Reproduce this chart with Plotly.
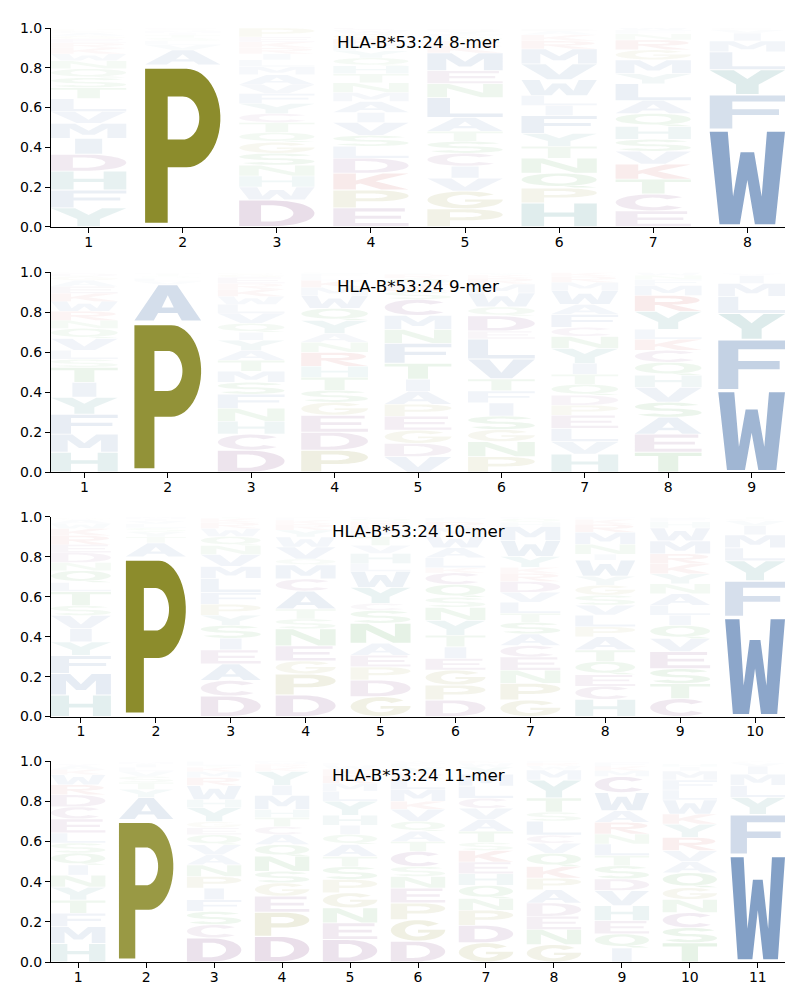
import numpy as np
import plotly.graph_objects as go

ALLELE = "HLA-B*53:24"
LENGTHS = [8, 9, 10, 11]

# letters per position, listed bottom -> top, with their stacked heights
MER8_LETTERS = ["YFHDIMVLTSQNWKREGACP", "PAVLSTIMQGE", "DWHNSGQTCYFVAMLIRKEP",
                "EPKDLSVIAMNTHQYFRGWC", "PGVICSTALNEMKRQFYD", "HPQNTYFILWVMRKAE",
                "ECTKVSHQALYMGRNFW", "WFYLMIVC"]
MER8_HEIGHTS = [
    [.095, .09, .095, .085, .08, .075, .06, .065, .055, .05, .045, .04, .035, .03, .025, .02, .015, .015, .01, .01],
    [.815, .075, .025, .02, .015, .015, .01, .01, .005, .005, .005],
    [.135, .065, .055, .055, .06, .055, .05, .05, .045, .05, .05, .045, .05, .04, .035, .03, .03, .03, .025, .045],
    [.095, .09, .085, .075, .06, .055, .065, .05, .055, .045, .05, .045, .04, .04, .035, .03, .03, .025, .02, .015],
    [.09, .09, .065, .06, .065, .06, .05, .07, .1, .07, .065, .09, .035, .025, .02, .015, .015, .01],
    [.12, .075, .075, .075, .06, .065, .09, .05, .05, .08, .08, .075, .04, .03, .02, .01],
    [.08, .085, .075, .075, .065, .06, .065, .065, .065, .085, .05, .07, .05, .05, .03, .02, .015],
    [.49, .175, .125, .09, .055, .04, .015, .01],
]

MER9_LETTERS = ["HMFYITSLVQNRWKEAGDC", "PAVLSTIM", "DCHNFSMTAYIQVLWKREGP",
                "PDEGSTHRNAYQWMKLFC", "VDGEPAITFNMCSKQRY", "PNGSIFTVLEDQWMRKY",
                "HVLEPDQTIYNCFAWMRKG", "TEASVHQCKLYRMFNW", "WFYLMIVC"]
MER9_HEIGHTS = [
    [.1, .09, .1, .085, .075, .075, .04, .045, .06, .05, .04, .045, .05, .04, .035, .03, .02, .015, .01],
    [.755, .185, .015, .015, .01, .01, .005, .005],
    [.11, .08, .065, .065, .07, .06, .055, .055, .05, .05, .04, .045, .05, .045, .04, .035, .03, .03, .015, .01],
    [.11, .09, .085, .065, .06, .065, .055, .07, .05, .045, .065, .06, .065, .04, .035, .02, .015, .01],
    [.078, .066, .066, .07, .06, .065, .06, .08, .1, .07, .07, .08, .04, .035, .03, .02, .01],
    [.078, .075, .06, .068, .066, .06, .06, .1, .1, .04, .075, .045, .07, .045, .03, .015, .01],
    [.09, .063, .066, .066, .05, .05, .055, .05, .055, .075, .06, .045, .065, .05, .07, .04, .03, .02, .01],
    [.1, .09, .085, .075, .075, .06, .065, .06, .055, .05, .09, .08, .05, .03, .02, .015],
    [.41, .255, .13, .085, .065, .04, .01, .005],
]

MER10_LETTERS = ["HMFYIVSTLQNDERKWAG", "PATYSLVIM", "DCAEISYPFLMVNQWRKT",
                 "DPGENSTACMQVWYRKLF", "GDPEANSCYWLHVTMKRQF", "DPGEITYNSQCKLAWMRFV",
                 "GPNECASTLVDRKYWMHQF", "HCEQTAPLVSGYWINMRKF", "CTSEVQILANYKRMWHFD",
                 "WFYLMIVCT"]
MER10_HEIGHTS = [
    [.108, .108, .09, .068, .066, .066, .05, .07, .045, .06, .04, .05, .04, .045, .035, .025, .02, .01],
    [.8, .07, .03, .025, .02, .02, .015, .01, .01],
    [.103, .078, .083, .07, .058, .065, .05, .055, .06, .07, .06, .06, .045, .045, .04, .03, .02, .01],
    [.108, .105, .066, .075, .085, .05, .05, .09, .06, .07, .03, .06, .05, .035, .03, .02, .01, .005],
    [.1, .083, .066, .058, .06, .1, .065, .035, .08, .08, .04, .05, .04, .045, .03, .025, .02, .015, .01],
    [.083, .075, .075, .058, .058, .058, .075, .065, .05, .065, .058, .025, .05, .05, .06, .04, .03, .02, .01],
    [.083, .083, .066, .066, .058, .058, .058, .045, .055, .05, .055, .04, .03, .055, .08, .07, .02, .02, .01],
    [.086, .066, .058, .066, .058, .066, .05, .058, .05, .05, .05, .045, .08, .03, .05, .06, .04, .025, .01],
    [.09, .075, .075, .085, .066, .066, .05, .05, .058, .05, .05, .05, .05, .065, .065, .03, .02, .005],
    [.5, .18, .1, .065, .065, .045, .025, .01, .01],
]

MER11_LETTERS = ["HMFTYNIQSLECDRWKAV", "PAYTSVLIMG", "DCSFIPNAVQEGYHWRMKTL",
                 "DPEGSNQACTHMIYKRWF", "DENGPSTAQIHYLMRKWF", "DGPENSCTAQVKMLRYFW",
                 "GDPNQHEKSTAVCLMYWR", "GNEDAPKQVCLSTYMWRF", "IQEHVDSTLNRAWCMKF",
                 "TSCNGQAVRYKWLFMIH", "WFYLMIVC"]
MER11_HEIGHTS = [
    [.092, .085, .066, .065, .065, .06, .05, .06, .05, .05, .07, .06, .06, .05, .05, .025, .02, .01],
    [.71, .11, .04, .035, .03, .025, .02, .015, .01, .005],
    [.12, .066, .066, .058, .058, .058, .058, .05, .05, .05, .035, .03, .07, .04, .07, .04, .03, .02, .01, .02],
    [.128, .12, .08, .066, .058, .075, .058, .05, .04, .045, .04, .07, .05, .07, .02, .015, .01, .01],
    [.112, .083, .075, .075, .066, .065, .05, .06, .05, .045, .05, .07, .05, .04, .04, .03, .02, .01],
    [.104, .107, .083, .074, .058, .05, .075, .05, .05, .05, .06, .04, .06, .05, .03, .03, .02, .01],
    [.096, .087, .075, .058, .066, .058, .058, .058, .04, .055, .06, .055, .05, .06, .06, .035, .02, .01],
    [.087, .075, .066, .066, .066, .058, .058, .066, .05, .04, .07, .045, .07, .09, .05, .02, .015, .01],
    [.07, .07, .066, .075, .075, .058, .066, .05, .058, .05, .058, .058, .09, .08, .03, .02, .02],
    [.096, .075, .075, .066, .058, .075, .055, .055, .066, .066, .05, .07, .05, .05, .045, .02, .015],
    [.535, .2, .085, .06, .055, .04, .015, .01],
]

PANELS = [(MER8_LETTERS, MER8_HEIGHTS), (MER9_LETTERS, MER9_HEIGHTS),
          (MER10_LETTERS, MER10_HEIGHTS), (MER11_LETTERS, MER11_HEIGHTS)]

BLUE, TEAL, PURPLE = (70, 113, 170), (48, 135, 135), (122, 58, 126)
RED, GREEN, OLIVE = (192, 56, 56), (58, 154, 58), (140, 140, 44)
COLORS = {}
for aa in "AVLIMFW":
    COLORS[aa] = BLUE
for aa in "YH":
    COLORS[aa] = TEAL
for aa in "DEC":
    COLORS[aa] = PURPLE
for aa in "KR":
    COLORS[aa] = RED
for aa in "NQST":
    COLORS[aa] = GREEN
for aa in "GP":
    COLORS[aa] = OLIVE


def arc(cx, cy, rx, ry, a0, a1, n=28):
    t = np.radians(np.linspace(a0, a1, n))
    return list(zip(cx + rx * np.cos(t), cy + ry * np.sin(t)))


# block-letter outlines in a unit box (even-odd fill gives the holes)
GLYPHS = {
    "A": [[(0, 0), (.36, 1), (.64, 1), (1, 0), (.71, 0), (.645, .21), (.355, .21), (.29, 0)],
          [(.41, .37), (.59, .37), (.5, .72)]],
    "C": [arc(.5, .5, .5, .5, 40, 320) + arc(.5, .5, .24, .3, 320, 40)],
    "D": [[(0, 0), (0, 1), (.45, 1)] + arc(.45, .5, .55, .5, 90, -90),
          [(.29, .18), (.29, .82), (.42, .82)] + arc(.42, .5, .3, .32, 90, -90)],
    "E": [[(0, 0), (0, 1), (.95, 1), (.95, .82), (.29, .82), (.29, .59), (.9, .59),
           (.9, .42), (.29, .42), (.29, .18), (1, .18), (1, 0)]],
    "F": [[(0, 0), (0, 1), (1, 1), (1, .82), (.3, .82), (.3, .58), (.92, .58),
           (.92, .41), (.3, .41), (.3, 0)]],
    "G": [arc(.5, .5, .5, .5, 40, 355) + [(1, .53), (.5, .53), (.5, .39)]
          + arc(.5, .5, .24, .3, -20, -320)],
    "H": [[(0, 0), (0, 1), (.3, 1), (.3, .6), (.7, .6), (.7, 1), (1, 1), (1, 0),
           (.7, 0), (.7, .42), (.3, .42), (.3, 0)]],
    "I": [[(.32, 0), (.32, 1), (.68, 1), (.68, 0)]],
    "K": [[(0, 0), (0, 1), (.3, 1), (.3, .56), (.66, 1), (1, 1), (.56, .52), (1, 0),
           (.64, 0), (.36, .38), (.3, .31), (.3, 0)]],
    "L": [[(0, 0), (0, 1), (.3, 1), (.3, .18), (1, .18), (1, 0)]],
    "M": [[(0, 0), (0, 1), (.32, 1), (.5, .5), (.68, 1), (1, 1), (1, 0), (.75, 0),
           (.75, .68), (.58, .22), (.42, .22), (.25, .68), (.25, 0)]],
    "N": [[(0, 0), (0, 1), (.29, 1), (.74, .33), (.74, 1), (1, 1), (1, 0), (.71, 0),
           (.26, .67), (.26, 0)]],
    "P": [[(0, 0), (0, 1), (.55, 1)] + arc(.55, .68, .45, .32, 90, -90) + [(.3, .36), (.3, 0)],
          [(.3, .82), (.5, .82)] + arc(.5, .68, .22, .14, 90, -90) + [(.3, .54)]],
    "Q": [arc(.5, .56, .5, .44, 0, 360), arc(.5, .56, .24, .27, 0, 360),
          [(.56, .12), (.82, .12), (1, 0), (.7, 0)]],
    "R": [[(0, 0), (0, 1), (.55, 1)] + arc(.55, .71, .42, .29, 90, -90)
          + [(1, 0), (.67, 0), (.36, .4), (.3, .4), (.3, 0)],
          [(.3, .83), (.52, .83)] + arc(.52, .71, .2, .12, 90, -90) + [(.3, .59)]],
    "S": [arc(.5, .71, .5, .29, 25, 270) + arc(.5, .295, .22, .125, 90, -155)
          + arc(.5, .29, .5, .29, -155, 90) + arc(.5, .705, .22, .125, 270, 25)],
    "T": [[(0, 1), (1, 1), (1, .82), (.65, .82), (.65, 0), (.35, 0), (.35, .82), (0, .82)]],
    "V": [[(0, 1), (.32, 1), (.5, .3), (.68, 1), (1, 1), (.66, 0), (.34, 0)]],
    "W": [[(0, 1), (.24, 1), (.31, .3), (.41, .78), (.59, .78), (.69, .3), (.76, 1), (1, 1),
           (.87, 0), (.6, 0), (.5, .48), (.4, 0), (.13, 0)]],
    "Y": [[(0, 1), (.32, 1), (.5, .63), (.68, 1), (1, 1), (.65, .4), (.65, 0), (.35, 0), (.35, .4)]],
}

WIDTH = 0.8
VPAD = 0.05
DOMAINS = [[0.7872, 1.0], [0.5245, 0.7383], [0.2628, 0.4766], [0.0, 0.2149]]
FONT = "DejaVu Sans"


def glyph_path(ch, x0, y0, w, h):
    parts = []
    for sub in GLYPHS[ch]:
        pts = " L".join(f"{x0 + gx * w:.4f},{y0 + gy * h:.4f}" for gx, gy in sub)
        parts.append("M" + pts + " Z")
    return " ".join(parts)


fig = go.Figure()
shapes = []
annotations = []
layout_axes = {}

for i, (letters, heights) in enumerate(PANELS):
    n = LENGTHS[i]
    suffix = "" if i == 0 else str(i + 1)
    for pos, (stack, hs) in enumerate(zip(letters, heights), start=1):
        bottom = 0.0
        for ch, h in zip(stack, hs):
            r, g, b = COLORS[ch]
            alpha = min(1.0, 1.25 * h)
            shapes.append(dict(
                type="path",
                path=glyph_path(ch, pos - WIDTH / 2, bottom + h * VPAD / 2, WIDTH, h * (1 - VPAD)),
                xref=f"x{suffix}", yref=f"y{suffix}",
                fillcolor=f"rgba({r},{g},{b},{alpha:.3f})",
                line=dict(width=0), fillrule="evenodd", layer="above",
            ))
            bottom += h

    # invisible trace so every subplot gets its axes
    fig.add_trace(go.Scatter(x=[1], y=[0], mode="markers", marker=dict(opacity=0),
                             hoverinfo="skip", showlegend=False,
                             xaxis=f"x{suffix}", yaxis=f"y{suffix}"))

    layout_axes[f"xaxis{suffix}"] = dict(
        domain=[0, 1], range=[0.6, n + 0.4], tickvals=list(range(1, n + 1)),
        ticks="outside", ticklen=5, tickwidth=1.1, tickcolor="black",
        showline=True, linecolor="black", linewidth=1.1,
        showgrid=False, zeroline=False, anchor=f"y{suffix}",
        ticklabelstandoff=-3,
        tickfont=dict(family=FONT, size=14, color="black"),
    )
    layout_axes[f"yaxis{suffix}"] = dict(
        domain=DOMAINS[i], range=[0, 1], tickvals=[0, 0.2, 0.4, 0.6, 0.8, 1.0],
        tickformat=".1f", ticks="outside", ticklen=5, tickwidth=1.1, tickcolor="black",
        showline=True, linecolor="black", linewidth=1.1,
        showgrid=False, zeroline=False, anchor=f"x{suffix}",
        tickfont=dict(family=FONT, size=14, color="black"),
    )
    annotations.append(dict(
        text=f"{ALLELE} {n}-mer", x=0.5, y=0.93,
        xref=f"x{suffix} domain", yref=f"y{suffix} domain",
        xanchor="center", yanchor="middle", showarrow=False,
        font=dict(family=FONT, size=16.7, color="black"),
    ))

# the page body adds an 8 px offset, so the margins are shifted to compensate
fig.update_layout(
    **layout_axes,
    shapes=shapes,
    annotations=annotations,
    width=800, height=1000,
    margin=dict(l=39, r=23, t=14, b=46),
    plot_bgcolor="white", paper_bgcolor="white",
    showlegend=False,
)

fig.write_html("out.html")
